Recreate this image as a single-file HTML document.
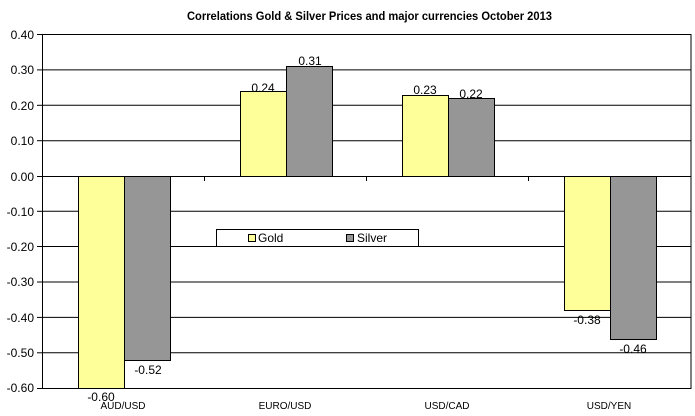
<!DOCTYPE html>
<html><head><meta charset="utf-8"><style>
html,body{margin:0;padding:0;background:#fff;}
svg{display:block;font-family:"Liberation Sans",Arial,sans-serif;}
</style></head><body>
<svg width="695" height="416" viewBox="0 0 695 416" xmlns="http://www.w3.org/2000/svg">
<rect width="695" height="416" fill="#fff"/>
<text x="187" y="20" font-size="12" font-weight="bold" fill="#000" textLength="365" lengthAdjust="spacingAndGlyphs">Correlations Gold &amp; Silver Prices and major currencies October 2013</text>
<g stroke="#000" stroke-width="1">
<line x1="42" y1="34.5" x2="691" y2="34.5"/>
<line x1="42" y1="69.9" x2="691" y2="69.9"/>
<line x1="42" y1="105.3" x2="691" y2="105.3"/>
<line x1="42" y1="140.7" x2="691" y2="140.7"/>
<line x1="42" y1="211.3" x2="691" y2="211.3"/>
<line x1="42" y1="246.5" x2="691" y2="246.5"/>
<line x1="42" y1="282" x2="691" y2="282"/>
<line x1="42" y1="317.4" x2="691" y2="317.4"/>
<line x1="42" y1="352.8" x2="691" y2="352.8"/>
<line x1="42" y1="388.5" x2="691" y2="388.5"/>
<line x1="691" y1="34" x2="691" y2="389"/>
<line x1="42.5" y1="34" x2="42.5" y2="389"/>
<line x1="42" y1="176.5" x2="691" y2="176.5"/>
<line x1="37" y1="34.5" x2="42" y2="34.5"/><line x1="37" y1="69.9" x2="42" y2="69.9"/><line x1="37" y1="105.3" x2="42" y2="105.3"/><line x1="37" y1="140.7" x2="42" y2="140.7"/><line x1="37" y1="176.5" x2="42" y2="176.5"/><line x1="37" y1="211.3" x2="42" y2="211.3"/><line x1="37" y1="246.5" x2="42" y2="246.5"/><line x1="37" y1="282" x2="42" y2="282"/><line x1="37" y1="317.4" x2="42" y2="317.4"/><line x1="37" y1="352.8" x2="42" y2="352.8"/><line x1="37" y1="388.5" x2="42" y2="388.5"/>
<line x1="204.5" y1="176" x2="204.5" y2="181"/><line x1="366.5" y1="176" x2="366.5" y2="181"/><line x1="528.5" y1="176" x2="528.5" y2="181"/>
</g>
<g font-size="12" fill="#000" text-anchor="end">
<text x="34" y="39">0.40</text><text x="34" y="74">0.30</text><text x="34" y="110">0.20</text><text x="34" y="145">0.10</text><text x="34" y="181">0.00</text><text x="34" y="216">-0.10</text><text x="34" y="251">-0.20</text><text x="34" y="286">-0.30</text><text x="34" y="322">-0.40</text><text x="34" y="357">-0.50</text><text x="34" y="392">-0.60</text>
</g>
<g stroke="#000" stroke-width="1">
<rect x="78.5" y="176.5" width="46" height="212" fill="#ffff99"/>
<rect x="124.5" y="176.5" width="46" height="184" fill="#969696"/>
<rect x="240.5" y="91.5" width="46" height="85" fill="#ffff99"/>
<rect x="286.5" y="66.5" width="46" height="110" fill="#969696"/>
<rect x="402.5" y="95.5" width="46" height="81" fill="#ffff99"/>
<rect x="448.5" y="98.5" width="46" height="78" fill="#969696"/>
<rect x="564.5" y="176.5" width="46" height="134" fill="#ffff99"/>
<rect x="610.5" y="176.5" width="46" height="163" fill="#969696"/>
</g>
<g font-size="12" fill="#000" text-anchor="middle">
<text x="101" y="401">-0.60</text><text x="148" y="374">-0.52</text>
<text x="263" y="92">0.24</text><text x="310" y="65">0.31</text>
<text x="425" y="94">0.23</text><text x="471" y="98">0.22</text>
<text x="587" y="324">-0.38</text><text x="633" y="353">-0.46</text>
</g>
<g font-size="10" fill="#000" text-anchor="middle">
<text x="123" y="409">AUD/USD</text><text x="285" y="409">EURO/USD</text><text x="447" y="409">USD/CAD</text><text x="609" y="409">USD/YEN</text>
</g>
<rect x="216.5" y="229.5" width="202" height="17" fill="#fff" stroke="#000"/>
<rect x="248.5" y="234.5" width="7" height="7" fill="#ffff99" stroke="#000"/>
<text x="258" y="242" font-size="12">Gold</text>
<rect x="346.5" y="234.5" width="7" height="7" fill="#969696" stroke="#000"/>
<text x="357" y="242" font-size="12">Silver</text>
</svg>
</body></html>
